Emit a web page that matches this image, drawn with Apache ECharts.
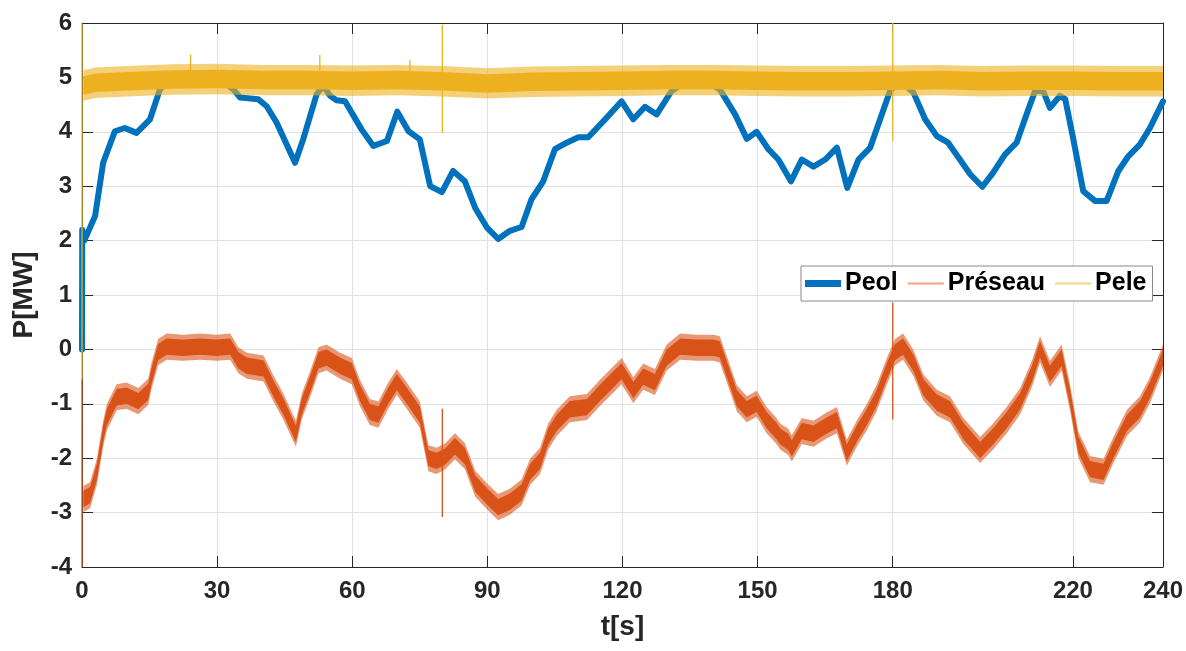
<!DOCTYPE html>
<html>
<head>
<meta charset="utf-8">
<script src="https://cdn.jsdelivr.net/npm/echarts@6/dist/echarts.min.js"></script>
<style>
  html, body { margin: 0; padding: 0; background: #fff; }
  #chart { width: 1186px; height: 651px; }
</style>
</head>
<body>
<div id="chart"></div>
<script>
// x ticks as printed on the figure (no 210, a 220 instead)
const timeTicks = [0, 30, 60, 90, 120, 150, 180, 220, 240];

// Peol [t (s), P (MW)]
const peol = [
  [0, 0], [0.05, 2.2], [0.5, 2.0], [2.9, 2.45], [4.7, 3.43], [7.3, 4.01], [9.5, 4.07],
  [12.1, 3.98], [15.1, 4.23], [17.3, 4.78], [19.5, 4.95], [23, 5.0], [27, 4.98], [31, 4.95],
  [33.6, 4.78], [35.1, 4.63], [39.1, 4.6], [41.0, 4.47], [43.2, 4.17], [47.3, 3.43],
  [49.1, 3.86], [52.1, 4.69], [53.5, 4.85], [55.1, 4.66], [56.5, 4.58], [58.4, 4.56],
  [62.1, 4.04], [64.7, 3.74], [67.7, 3.83], [70.0, 4.37], [72.5, 4.01], [75.0, 3.86],
  [77.3, 3.0], [79.9, 2.89], [82.4, 3.28], [85.0, 3.09], [87.3, 2.6], [89.9, 2.24],
  [92.4, 2.03], [95.0, 2.18], [97.6, 2.25], [99.8, 2.76], [102.4, 3.09], [105.0, 3.68],
  [107.6, 3.80], [110.2, 3.90], [112.4, 3.90], [116.5, 4.26], [119.8, 4.56], [122.4, 4.23],
  [125.0, 4.46], [127.6, 4.32], [130.9, 4.75], [134, 4.92], [138, 4.95], [141.6, 4.78],
  [145.0, 4.32], [147.6, 3.87], [149.8, 4.0], [152.4, 3.68], [154.6, 3.49], [157.4, 3.09],
  [159.8, 3.49], [162.4, 3.36], [165.0, 3.49], [167.6, 3.71], [169.9, 2.97], [172.4, 3.49],
  [175.0, 3.71], [177.2, 4.23], [179.4, 4.75], [181.5, 4.95], [184.6, 4.72], [187.2, 4.23],
  [189.8, 3.92], [192.3, 3.80], [197.2, 3.22], [199.9, 2.99], [202.3, 3.25], [204.9, 3.58],
  [207.5, 3.80], [209.7, 4.32], [211.6, 4.75], [213.4, 4.75], [214.9, 4.44], [217.1, 4.66],
  [218.3, 4.6], [220.1, 3.86], [222.3, 2.91], [224.9, 2.73], [227.5, 2.73], [230.1, 3.28],
  [232.3, 3.55], [234.9, 3.77], [237.1, 4.07], [240, 4.56]
];

// Préseau: middle of the noisy trace [t, P]
const preseauMid = [
  [0.3, -2.75], [1.8, -2.68], [3.3, -2.25], [4.7, -1.55], [5.5, -1.25], [7.7, -0.88],
  [9.9, -0.85], [12.5, -0.95], [14.7, -0.78], [15.4, -0.5], [16.9, -0.05], [18.8, 0.05],
  [22.5, 0.03], [26.2, 0.05], [29.9, 0.03], [32.9, 0.05], [34.7, -0.2], [36.6, -0.3],
  [40.3, -0.35], [42.5, -0.72], [44.7, -1.05], [46.9, -1.45], [47.5, -1.55], [48.8, -1.05],
  [50.6, -0.65], [52.5, -0.2], [54.3, -0.15], [57.3, -0.3], [59.9, -0.4], [61.7, -0.8],
  [63.9, -1.15], [65.8, -1.2], [68.0, -0.85], [69.9, -0.6], [72.1, -0.85], [75.0, -1.2],
  [76.9, -2.0], [78.7, -2.05], [80.6, -1.97], [82.8, -1.78], [85.0, -1.96], [87.3, -2.47],
  [89.9, -2.7], [92.4, -2.9], [95.0, -2.8], [97.6, -2.63], [99.5, -2.25], [101.7, -2.05],
  [103.5, -1.6], [105.4, -1.35], [108.3, -1.1], [112.1, -1.06], [115.0, -0.8], [118.0, -0.55],
  [119.8, -0.4], [122.4, -0.75], [124.6, -0.5], [127.2, -0.6], [129.8, -0.15], [132.8, 0.05],
  [136.5, 0.03], [140.2, 0.03], [141.6, 0.0], [143.1, -0.35], [145.4, -0.9], [147.6, -1.1],
  [149.8, -1.0], [152.0, -1.3], [154.2, -1.5], [155.0, -1.6], [156.8, -1.7], [157.6, -1.82],
  [159.8, -1.5], [162.4, -1.55], [165.3, -1.4], [167.6, -1.3], [169.8, -1.9], [172.0, -1.55],
  [174.2, -1.25], [176.4, -0.9], [178.7, -0.4], [180.5, -0.05], [182.3, 0.05], [184.6, -0.25],
  [186.8, -0.7], [189.8, -0.98], [192.7, -1.1], [195.7, -1.5], [199.4, -1.85], [202.3, -1.6],
  [205.3, -1.3], [208.3, -0.95], [210.9, -0.45], [212.7, 0.0], [214.9, -0.45], [217.5, -0.15],
  [219.4, -0.9], [221.2, -1.75], [223.8, -2.2], [226.8, -2.25], [229.0, -1.85], [232.0, -1.35],
  [234.9, -1.1], [237.1, -0.75], [240, -0.15]
];
// spikes [t, top, bottom]
const preseauSpikes = [[0, -0.55, -4], [80, -1.09, -3.08], [180, 0.86, -1.29]];
// noise half-width: dense core, sparse fringe (MW)
const preseauNoise = [0.15, 0.24];

// Pele: middle of the noisy trace [t, P]
const peleMid = [
  [0.3, 4.85], [3, 4.9], [10, 4.93], [20, 4.96], [30, 4.97], [40, 4.95], [50, 4.95],
  [60, 4.94], [70, 4.95], [80, 4.93], [90, 4.89], [100, 4.92], [110, 4.93], [120, 4.94],
  [130, 4.95], [140, 4.95], [150, 4.94], [160, 4.93], [170, 4.93], [180, 4.94], [190, 4.95],
  [200, 4.93], [210, 4.94], [220, 4.94], [230, 4.93], [240, 4.93]
];
const peleSpikes = [
  [0, 6, -0.55], [24.1, 5.42, 4.8], [52.8, 5.41, 4.8], [72.8, 5.32, 4.8],
  [80, 5.97, 3.98], [180, 6.0, 3.83]
];
const peleNoise = [0.17, 0.28];

const BLUE = '#0072BD', ORANGE = '#D95319', YELLOW = '#EDB120';
const FONT = 'Liberation Sans, Arial, sans-serif';
const AXIS = '#262626';

// noise band drawn as one polygon, points placed with api.coord
function bandSeries(key, mid, noise, color, z) {
  const [core, fringe] = noise;
  const layer = (w, opacity) => ({
    type: 'custom',
    name: key + '-' + w,
    silent: true,
    z,
    data: mid,
    encode: { x: 0, y: 1 },
    renderItem(params, api) {
      if (params.dataIndex !== 0) return;
      const upper = mid.map(([t, v]) => api.coord([t, v + w]));
      const lower = mid.map(([t, v]) => api.coord([t, v - w])).reverse();
      return {
        type: 'polygon',
        shape: { points: upper.concat(lower) },
        style: { fill: color, opacity },
      };
    },
  });
  return [layer(fringe, 0.6), layer(core, 1)];
}

function spikeSeries(name, spikes, color, z) {
  const data = [];
  spikes.forEach(([t, top, bottom]) => {
    data.push([t, top], [t, bottom], [t, '-']);
  });
  return {
    type: 'line', name, data, symbol: 'none', silent: true, clip: false, z,
    connectNulls: false, lineStyle: { color, width: 1.3 },
  };
}

const chart = echarts.init(document.getElementById('chart'));

const sideAxis = {
  axisLabel: { show: false },
  splitLine: { show: false },
  axisLine: { show: true, onZero: false, lineStyle: { color: AXIS, width: 1 } },
};

chart.setOption({
  animation: false,
  backgroundColor: '#fff',
  textStyle: { fontFamily: FONT },
  grid: { left: 82, right: 23, top: 23, bottom: 84, containLabel: false },
  legend: {
    left: 801,
    top: 266,
    orient: 'horizontal',
    padding: [5, 6, 5, 4],
    itemGap: 9,
    itemWidth: 36,
    itemHeight: 7,
    backgroundColor: '#fff',
    borderColor: '#8a8a8a',
    borderWidth: 1,
    borderRadius: 0,
    z: 10,
    textStyle: { fontSize: 25, fontWeight: 'bold', color: '#000', fontFamily: FONT, padding: [0, 0, 0, -1] },
    data: [
      { name: 'Peol', icon: 'rect', itemStyle: { color: BLUE }, lineStyle: { width: 0 } },
      { name: 'Préseau', lineStyle: { color: '#EFA383', width: 2 }, itemStyle: { opacity: 0 } },
      { name: 'Pele', lineStyle: { color: '#F4D48A', width: 2 }, itemStyle: { opacity: 0 } },
    ],
  },
  xAxis: [
    {
      type: 'value', min: 0, max: 240, position: 'bottom',
      name: 't[s]', nameLocation: 'middle', nameGap: 46,
      nameTextStyle: { fontSize: 28, fontWeight: 'bold', color: AXIS, fontFamily: FONT },
      axisLine: { onZero: false, lineStyle: { color: AXIS, width: 1 } },
      axisTick: { inside: true, length: 11, customValues: timeTicks, lineStyle: { color: AXIS } },
      axisLabel: { customValues: timeTicks, fontSize: 24, fontWeight: 'bold', color: AXIS, margin: 12, fontFamily: FONT },
      splitLine: { show: true, customValues: timeTicks, lineStyle: { color: '#e2e2e2', width: 1 } },
    },
    {
      type: 'value', min: 0, max: 240, position: 'top', ...sideAxis,
      axisTick: { inside: true, length: 11, customValues: timeTicks, lineStyle: { color: AXIS } },
    },
  ],
  yAxis: [
    {
      type: 'value', min: -4, max: 6, interval: 1, position: 'left',
      name: 'P[MW]', nameLocation: 'middle', nameGap: 44,
      nameTextStyle: { fontSize: 28, fontWeight: 'bold', color: AXIS, fontFamily: FONT },
      axisLine: { show: true, onZero: false, lineStyle: { color: AXIS, width: 1 } },
      axisTick: { show: true, inside: true, length: 11, lineStyle: { color: AXIS } },
      axisLabel: { fontSize: 24, fontWeight: 'bold', color: AXIS, margin: 10, fontFamily: FONT },
      splitLine: { show: true, lineStyle: { color: '#e2e2e2', width: 1 } },
    },
    {
      type: 'value', min: -4, max: 6, interval: 1, position: 'right', ...sideAxis,
      axisTick: { show: true, inside: true, length: 11, lineStyle: { color: AXIS } },
    },
  ],
  series: [
    {
      type: 'line', name: 'Peol', data: peol, symbol: 'none', clip: false, z: 2,
      lineStyle: { color: BLUE, width: 6, join: 'round', cap: 'round' },
      itemStyle: { color: BLUE },
      emphasis: { disabled: true },
    },
    ...bandSeries('preseau', preseauMid, preseauNoise, ORANGE, 3),
    spikeSeries('Préseau', preseauSpikes, ORANGE, 4),
    ...bandSeries('pele', peleMid, peleNoise, YELLOW, 5),
    spikeSeries('Pele', peleSpikes, YELLOW, 6),
  ],
});
</script>
</body>
</html>
